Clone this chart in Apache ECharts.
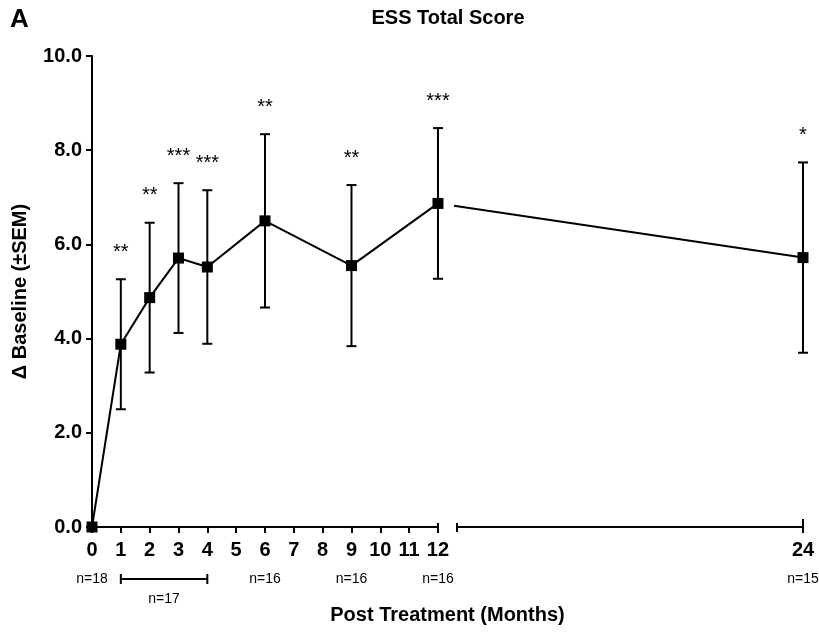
<!DOCTYPE html>
<html>
<head>
<meta charset="utf-8">
<title>ESS Total Score</title>
<script src="https://cdn.jsdelivr.net/npm/echarts@6/dist/echarts.min.js"></script>
<style>
html, body { margin: 0; padding: 0; background: #fff; }
#chart { width: 819px; height: 636px; }
</style>
</head>
<body>
<div id="chart"></div>
<script>
// values
var months = [0, 1, 2, 3, 4, 6, 9, 12, 24];
var means = [0, 3.88, 4.87, 5.71, 5.52, 6.50, 5.55, 6.87, 5.72];
var sems = [0, 1.38, 1.59, 1.59, 1.63, 1.84, 1.71, 1.60, 2.02];
var stars = ['', '**', '**', '***', '***', '**', '**', '***', '*'];
var xTicks = [0, 1, 2, 3, 4, 5, 6, 7, 8, 9, 10, 11, 12, 24];
var yTicks = [0, 2, 4, 6, 8, 10];
var nLabels = ['n=18', 'n=17', 'n=16', 'n=16', 'n=16', 'n=15'];
var nFrom = [0, 1, 6, 9, 12, 24];
var nTo = [0, 4, 6, 9, 12, 24];

var FONT = '"Liberation Sans", Arial, sans-serif';
var BREAK_AT = 12;    // x axis is broken after 12 months
var BREAK_GAP = 0.66; // width of the gap, in months

// position on the broken axis
function pos(m) { return m > BREAK_AT ? m + BREAK_GAP : m; }
function unpos(v) { return v > BREAK_AT + BREAK_GAP / 2 ? v - BREAK_GAP : v; }

var chart = echarts.init(document.getElementById('chart'));

var lineData = [], markData = [], errData = [], starData = [], starText = [];
for (var i = 0; i < months.length; i++) {
	if (months[i] <= BREAK_AT) lineData.push([pos(months[i]), means[i]]);
	markData.push([pos(months[i]), means[i]]);
	if (sems[i] > 0) {
		errData.push([pos(months[i]), means[i] - sems[i], means[i] + sems[i]]);
	}
	if (stars[i]) {
		starData.push([pos(months[i]), means[i] + sems[i]]);
		starText.push(stars[i]);
	}
}
var last = months.length - 1;
var prev = months.indexOf(BREAK_AT);
var nData = nLabels.map(function (t, k) { return [pos(nFrom[k]), pos(nTo[k])]; });

var black = { stroke: '#000', lineWidth: 2 };

function seg(x1, y1, x2, y2) {
	return { type: 'line', shape: { x1: x1, y1: y1, x2: x2, y2: y2 }, style: black };
}

var option = {
	animation: false,
	backgroundColor: '#fff',
	textStyle: { fontFamily: FONT },
	graphic: [
		{ type: 'text', x: 10, y: 7, style: { text: 'A', font: 'bold 26px ' + FONT, fill: '#000' } },
		{ type: 'text', x: 448, y: 8, style: { text: 'ESS Total Score', textAlign: 'center', font: 'bold 20px ' + FONT, fill: '#000' } }
	],
	grid: { left: 92, top: 56, width: 711, height: 471 },
	xAxis: {
		type: 'value',
		min: 0,
		max: pos(24),
		name: 'Post Treatment (Months)',
		nameLocation: 'middle',
		nameGap: 78,
		nameTextStyle: { fontSize: 20, fontWeight: 'bold', color: '#000', fontFamily: FONT },
		axisLine: { show: false },
		axisTick: {
			show: true,
			customValues: xTicks.map(pos),
			length: 6,
			lineStyle: { color: '#000', width: 2 }
		},
		axisLabel: {
			customValues: xTicks.map(pos),
			formatter: function (v) { return Math.round(unpos(v)); },
			fontSize: 20,
			fontWeight: 'bold',
			color: '#000',
			margin: 13
		},
		splitLine: { show: false }
	},
	yAxis: {
		type: 'value',
		min: 0,
		max: 10,
		interval: 2,
		name: 'Δ Baseline (±SEM)',
		nameLocation: 'middle',
		nameGap: 62,
		nameTextStyle: { fontSize: 20, fontWeight: 'bold', color: '#000', fontFamily: FONT },
		axisLine: { show: true, lineStyle: { color: '#000', width: 2 } },
		axisTick: { show: true, length: 6, lineStyle: { color: '#000', width: 2 } },
		axisLabel: {
			customValues: yTicks,
			formatter: function (v) { return v.toFixed(1); },
			fontSize: 20,
			fontWeight: 'bold',
			color: '#000',
			margin: 10
		},
		splitLine: { show: false }
	},
	series: [
		// broken x axis line
		{
			type: 'custom',
			silent: true,
			data: [[0, 0]],
			renderItem: function (params, api) {
				var a = api.coord([0, 0]);
				var b = api.coord([BREAK_AT, 0]);
				var c = api.coord([BREAK_AT + BREAK_GAP, 0]);
				var d = api.coord([pos(24), 0]);
				return {
					type: 'group',
					children: [
						seg(a[0], a[1], b[0], b[1]),
						seg(c[0], c[1], d[0], d[1]),
						seg(b[0], b[1] - 4, b[0], b[1]),
						seg(c[0], c[1] - 4, c[0], c[1] + 5),
						seg(d[0], d[1] - 8, d[0], d[1])
					]
				};
			}
		},
		// error bars
		{
			type: 'custom',
			silent: true,
			data: errData,
			renderItem: function (params, api) {
				var lo = api.coord([api.value(0), api.value(1)]);
				var hi = api.coord([api.value(0), api.value(2)]);
				var w = 5;
				return {
					type: 'group',
					children: [
						seg(lo[0], lo[1], hi[0], hi[1]),
						seg(hi[0] - w, hi[1], hi[0] + w, hi[1]),
						seg(lo[0] - w, lo[1], lo[0] + w, lo[1])
					]
				};
			}
		},
		// mean line up to the break
		{
			type: 'line',
			data: lineData,
			showSymbol: false,
			symbol: 'none',
			lineStyle: { color: '#000', width: 2 },
			z: 3
		},
		// line across the break, hidden inside the gap
		{
			type: 'custom',
			silent: true,
			data: [[pos(months[prev]), means[prev], pos(months[last]), means[last]]],
			renderItem: function (params, api) {
				var p0 = api.coord([api.value(0), api.value(1)]);
				var p1 = api.coord([api.value(2), api.value(3)]);
				var sx = api.coord([BREAK_AT + BREAK_GAP, 0])[0] - 3;
				var t = (sx - p0[0]) / (p1[0] - p0[0]);
				return seg(sx, p0[1] + t * (p1[1] - p0[1]), p1[0], p1[1]);
			},
			z: 3
		},
		// markers
		{
			type: 'scatter',
			data: markData,
			symbol: 'rect',
			symbolSize: 11,
			itemStyle: { color: '#000', opacity: 1 },
			z: 4
		},
		// significance stars
		{
			type: 'custom',
			silent: true,
			data: starData,
			renderItem: function (params, api) {
				var p = api.coord([api.value(0), api.value(1)]);
				return {
					type: 'text',
					x: p[0],
					y: p[1] - 27,
					style: {
						text: starText[params.dataIndex],
						textAlign: 'center',
						textVerticalAlign: 'middle',
						font: '20px ' + FONT,
						fill: '#000'
					}
				};
			}
		},
		// n per visit under the axis
		{
			type: 'custom',
			silent: true,
			data: nData,
			renderItem: function (params, api) {
				var a = api.coord([api.value(0), 0]);
				var b = api.coord([api.value(1), 0]);
				var txt = nLabels[params.dataIndex];
				var y = a[1] + 52;
				var font = '14px ' + FONT;
				if (b[0] - a[0] < 1) {
					return {
						type: 'text', x: a[0], y: y,
						style: { text: txt, textAlign: 'center', textVerticalAlign: 'middle', font: font, fill: '#000' }
					};
				}
				return {
					type: 'group',
					children: [
						seg(a[0], y, b[0], y),
						seg(a[0], y - 5, a[0], y + 5),
						seg(b[0], y - 5, b[0], y + 5),
						{
							type: 'text', x: (a[0] + b[0]) / 2, y: y + 20,
							style: { text: txt, textAlign: 'center', textVerticalAlign: 'middle', font: font, fill: '#000' }
						}
					]
				};
			}
		}
	]
};

chart.setOption(option);
</script>
</body>
</html>
